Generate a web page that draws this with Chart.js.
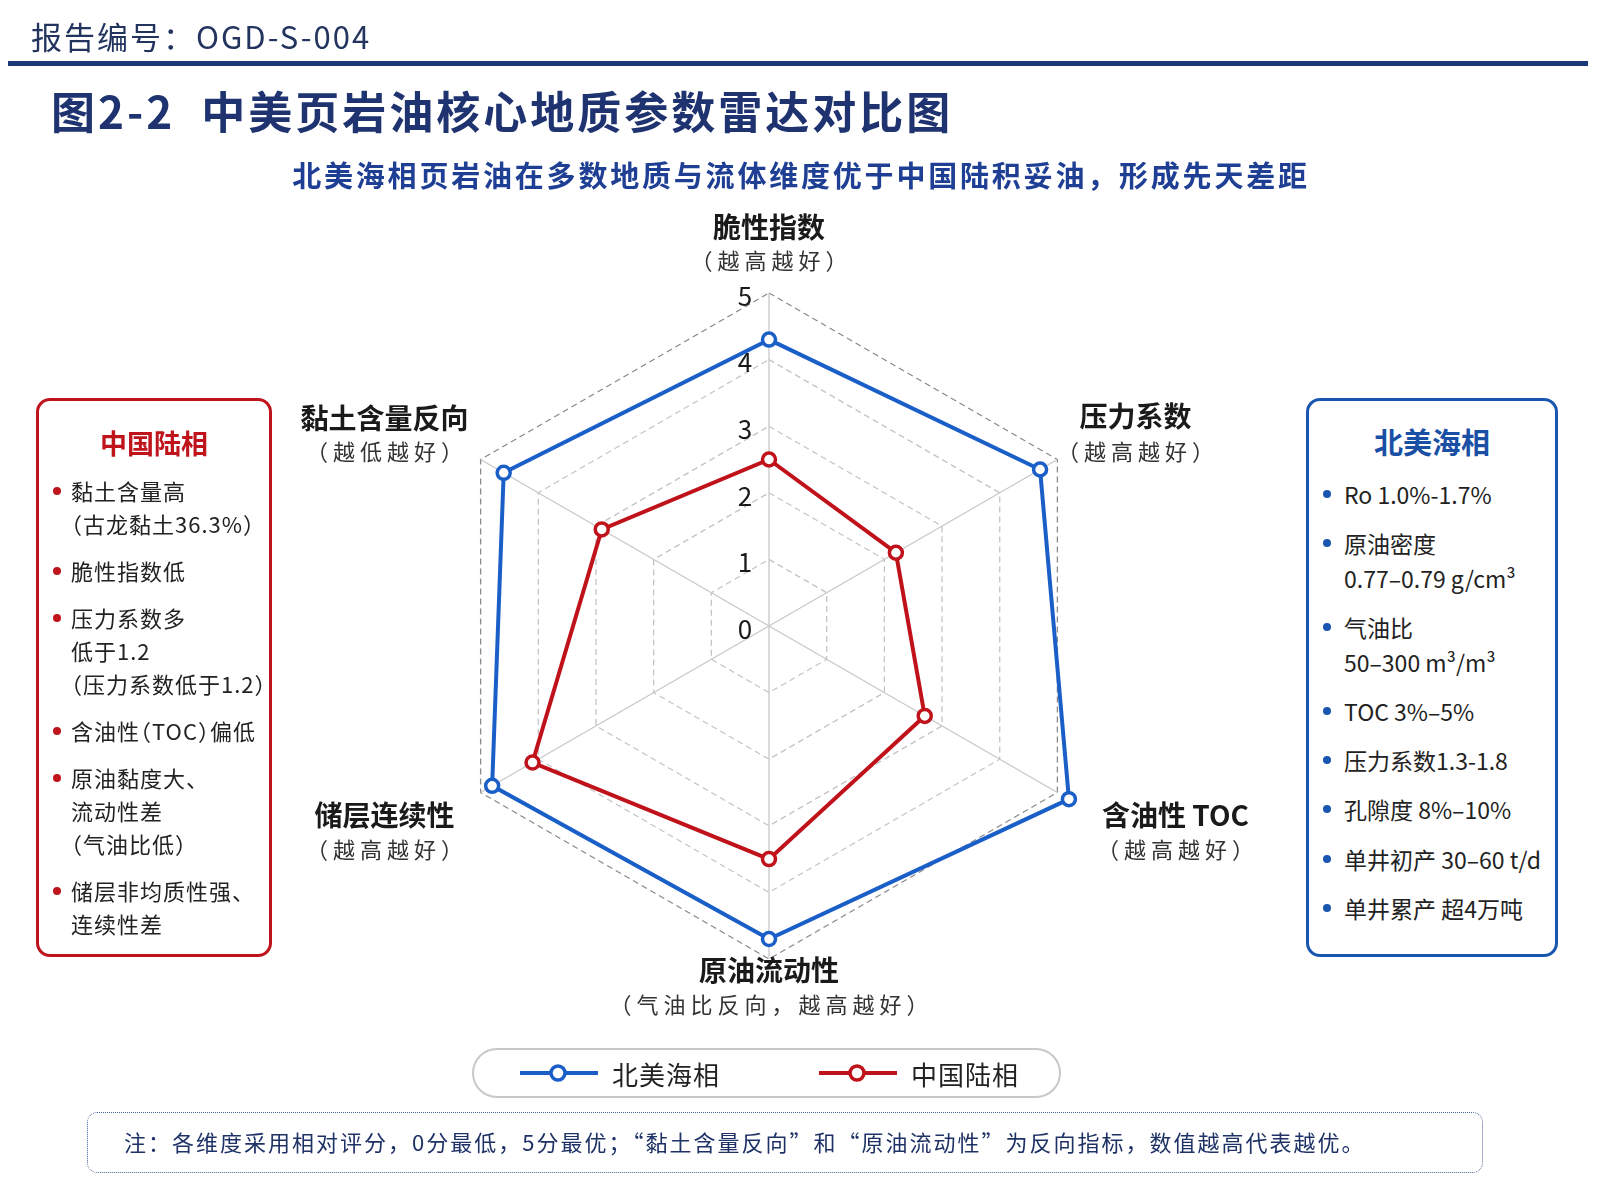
<!DOCTYPE html>
<html lang="zh-CN">
<head>
<meta charset="UTF-8">
<title>图2-2 中美页岩油核心地质参数雷达对比图</title>
<script src="https://cdn.jsdelivr.net/npm/chart.js@4.4.0/dist/chart.umd.min.js"></script>
<style>
    html, body { margin: 0; padding: 0; background: #fff; }
    body {
        width: 1600px; height: 1200px; position: relative; overflow: hidden;
        font-family: "Noto Sans CJK SC", "Noto Sans", sans-serif; color: #222;
    }
    #radarChart { position: absolute; left: 0; top: 0; z-index: 0; }
    .abs { position: absolute; z-index: 1; white-space: nowrap; }
    .report-no { left: 31px; top: 16px; font-size: 31px; line-height: 40px; color: #23345f; letter-spacing: 2px; }
    .rule { left: 8px; top: 61px; width: 1580px; height: 5px; background: #1c3a78; }
    .title { left: 51px; top: 83px; font-size: 44px; line-height: 54px; font-weight: bold; color: #1e3370; letter-spacing: 3px; }
    .subtitle { left: 0; width: 1602px; text-align: center; top: 155px; font-size: 29px; line-height: 38px; font-weight: bold; color: #1f3f94; letter-spacing: 2.8px; }
    .side-box { box-sizing: border-box; top: 398px; height: 559px; border: 3px solid; border-radius: 14px; background: #fff; }
    .side-box h3 { margin: 0; text-align: center; font-weight: bold; }
    .side-box ul { list-style: none; margin: 0; padding: 0; }
    .side-box li { position: relative; }
    .side-box li::before { content: ""; position: absolute; width: 8px; height: 8px; border-radius: 50%; }
    .halt { font-feature-settings: "halt"; }
    .box-cn { left: 36px; width: 236px; border-color: #c0141c; }
    .box-cn h3 { color: #c0141c; font-size: 27px; line-height: 36px; margin-top: 24px; }
    .box-cn ul { margin-top: 13px; padding-left: 32px; }
    .box-cn li { font-size: 22px; line-height: 33px; margin-bottom: 14px; letter-spacing: 1px; }
    .box-cn li::before { background: #c0141c; left: -18px; top: 13px; }
    .box-na { left: 1306px; width: 252px; border-color: #1a56b0; }
    .box-na h3 { color: #1a4fa6; font-size: 29px; line-height: 38px; margin-top: 21px; }
    .box-na ul { margin-top: 17px; padding-left: 35px; }
    .box-na li { font-size: 23px; line-height: 34.5px; margin-bottom: 14.8px; }
    .box-na li::before { background: #1a56b0; left: -21px; top: 13px; }
    .legend { box-sizing: border-box; left: 472px; top: 1048px; width: 589px; height: 50px; border: 2px solid #c8c8c8; border-radius: 25px; background: #fff; }
    .legend-item { position: absolute; top: 0; height: 46px; display: flex; align-items: center; font-size: 26px; color: #222; letter-spacing: 1px; }
    .legend-item svg { margin-right: 14px; }
    .note { box-sizing: border-box; left: 87px; top: 1112px; width: 1396px; height: 61px; border: 1.5px dotted #4a5f9a; border-radius: 10px; background: #fff; }
    .note span { position: absolute; left: 36px; top: 12px; font-size: 22px; line-height: 32px; color: #1f3266; letter-spacing: 2px; }
</style>
</head>
<body>
<canvas id="radarChart" width="1600" height="1200"></canvas>

<div class="abs report-no">报告编号：OGD-S-004</div>
<div class="abs rule"></div>
<div class="abs title">图2-2&nbsp;&nbsp;中美页岩油核心地质参数雷达对比图</div>
<div class="abs subtitle">北美海相页岩油在多数地质与流体维度优于中国陆积妥油，形成先天差距</div>

<!-- 左侧说明框：中国陆相 -->
<div class="abs side-box box-cn">
    <h3>中国陆相</h3>
    <ul class="halt">
        <li>黏土含量高<br>（古龙黏土36.3%）</li>
        <li>脆性指数低</li>
        <li>压力系数多<br>低于1.2<br>（压力系数低于1.2）</li>
        <li>含油性（TOC）偏低</li>
        <li>原油黏度大、<br>流动性差<br>（气油比低）</li>
        <li>储层非均质性强、<br>连续性差</li>
    </ul>
</div>

<!-- 右侧说明框：北美海相 -->
<div class="abs side-box box-na">
    <h3>北美海相</h3>
    <ul>
        <li>Ro 1.0%-1.7%</li>
        <li>原油密度<br>0.77–0.79 g/cm³</li>
        <li>气油比<br>50–300 m³/m³</li>
        <li>TOC 3%–5%</li>
        <li>压力系数1.3-1.8</li>
        <li>孔隙度 8%–10%</li>
        <li>单井初产 30–60 t/d</li>
        <li>单井累产 超4万吨</li>
    </ul>
</div>

<!-- 图例 -->
<div class="abs legend">
    <div class="legend-item" style="left:46px;">
        <svg width="78" height="20" viewBox="0 0 78 20"><line x1="0" y1="10" x2="78" y2="10" stroke="#1a5fc8" stroke-width="4"/><circle cx="38" cy="10" r="7" fill="#fff" stroke="#1a5fc8" stroke-width="3.5"/></svg>
        <span>北美海相</span>
    </div>
    <div class="legend-item" style="left:345px;">
        <svg width="78" height="20" viewBox="0 0 78 20"><line x1="0" y1="10" x2="78" y2="10" stroke="#c0121a" stroke-width="4"/><circle cx="38" cy="10" r="7" fill="#fff" stroke="#c0121a" stroke-width="3.5"/></svg>
        <span>中国陆相</span>
    </div>
</div>

<div class="abs note"><span>注：各维度采用相对评分，0分最低，5分最优；“黏土含量反向”和“原油流动性”为反向指标，数值越高代表越优。</span></div>

<script>
// 维度名称（雷达图从正上方开始顺时针排列）
const categories = ['脆性指数', '压力系数', '含油性 TOC', '原油流动性', '储层连续性', '黏土含量反向'];
const subLabels = ['（越高越好）', '（越高越好）', '（越高越好）', '（气油比反向，越高越好）', '（越高越好）', '（越低越好）'];
// 各维度评分（0-5分）
const northAmerica = [4.3, 4.7, 5.2, 4.7, 4.8, 4.6];
const chinaLand = [2.5, 2.2, 2.7, 3.5, 4.1, 2.9];
// 刻度
const tickValues = [0, 1, 2, 3, 4, 5];

const BLUE = '#1a5fc8';
const RED = '#c0121a';
const FONT = '"Noto Sans CJK SC", "Noto Sans", sans-serif';

// 维度标签相对于外圈顶点的偏移（主标题 / 副标题）
const labelOffsets = [
    { dx: 0, main: -66, sub: -32 },
    { dx: 78, main: -43, sub: -8 },
    { dx: 118, main: 23, sub: 57 },
    { dx: 0, main: 11, sub: 46 },
    { dx: -96, main: 23, sub: 57 },
    { dx: -96, main: -41, sub: -8 }
];

// 刻度数字画在纵轴左侧
const tickLabelPlugin = {
    id: 'tickLabelPlugin',
    beforeDatasetsDraw: function(chart) {
        const scale = chart.scales.r;
        const ctx = chart.ctx;
        ctx.save();
        ctx.font = '26px ' + FONT;
        ctx.fillStyle = '#1a1a1a';
        ctx.textAlign = 'center';
        ctx.textBaseline = 'middle';
        tickValues.forEach(function(v) {
            const r = scale.getDistanceFromCenterForValue(v);
            ctx.fillText(String(v), scale.xCenter - 24, scale.yCenter - r + 3);
        });
        ctx.restore();
    }
};

// 两行的维度标签
const pointLabelPlugin = {
    id: 'pointLabelPlugin',
    afterDraw: function(chart) {
        const scale = chart.scales.r;
        const ctx = chart.ctx;
        ctx.save();
        ctx.textAlign = 'center';
        ctx.textBaseline = 'middle';
        categories.forEach(function(name, i) {
            const p = scale.getPointPosition(i, scale.drawingArea);
            const o = labelOffsets[i];
            ctx.letterSpacing = '0px';
            ctx.font = 'bold 28px ' + FONT;
            ctx.fillStyle = '#1a1a1a';
            ctx.fillText(name, p.x + o.dx, p.y + o.main);
            ctx.letterSpacing = '5px';
            ctx.font = '22px ' + FONT;
            ctx.fillStyle = '#333';
            ctx.fillText(subLabels[i], p.x + o.dx + 2.5, p.y + o.sub);
        });
        ctx.restore();
    }
};

const ctx = document.getElementById('radarChart').getContext('2d');
new Chart(ctx, {
    type: 'radar',
    data: {
        labels: categories,
        datasets: [{
            label: '北美海相',
            data: northAmerica,
            borderColor: BLUE,
            backgroundColor: 'transparent',
            fill: false,
            borderWidth: 4,
            pointRadius: 6.5,
            pointBorderWidth: 3.5,
            pointBackgroundColor: '#fff',
            pointBorderColor: BLUE
        }, {
            label: '中国陆相',
            data: chinaLand,
            borderColor: RED,
            backgroundColor: 'transparent',
            fill: false,
            borderWidth: 4,
            pointRadius: 6.5,
            pointBorderWidth: 3.5,
            pointBackgroundColor: '#fff',
            pointBorderColor: RED
        }]
    },
    options: {
        responsive: false,
        animation: false,
        layout: { padding: { left: 435.7, right: 496.9, top: 292.8, bottom: 239.8 } },
        plugins: {
            legend: { display: false },
            tooltip: { enabled: false }
        },
        scales: {
            r: {
                min: 0,
                max: 5,
                ticks: { display: false, stepSize: 1 },
                pointLabels: { display: false },
                grid: {
                    color: function(c) { return c.tick && c.tick.value === 5 ? '#8a8a8a' : '#c4c4c4'; },
                    lineWidth: 1.3
                },
                border: { dash: [6, 4] },
                angleLines: { color: '#c8c8c8', lineWidth: 1.3 }
            }
        }
    },
    plugins: [tickLabelPlugin, pointLabelPlugin]
});
</script>
</body>
</html>
